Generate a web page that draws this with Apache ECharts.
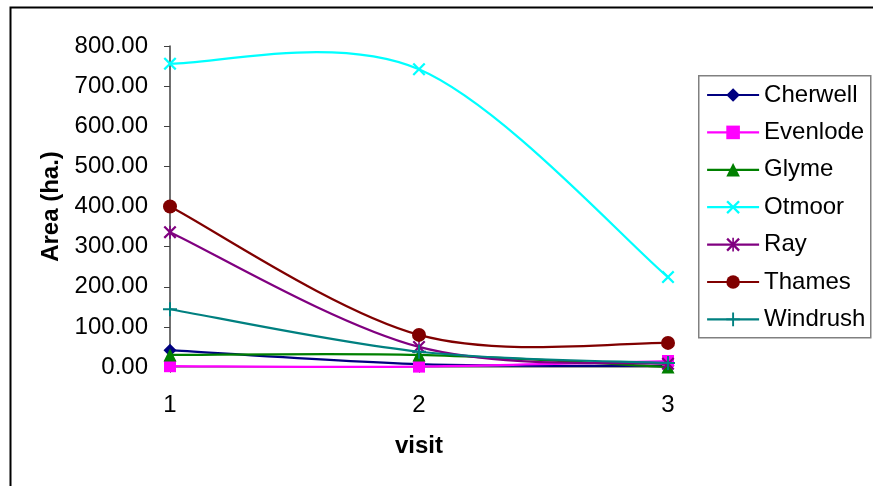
<!DOCTYPE html>
<html>
<head>
<meta charset="utf-8">
<script src="https://cdn.jsdelivr.net/npm/echarts@6/dist/echarts.min.js"></script>
<style>
  html, body { margin: 0; padding: 0; background: #fff; }
  #chart { width: 873px; height: 486px; }
</style>
</head>
<body>
<div id="chart"></div>
<script>
// Visits along the x axis
const visits = ['1', '2', '3'];

// Area (ha.) per river site at each visit
const cherwell = [42, 7, 3];
const evenlode = [2, 1, 15];
const glyme = [30, 30, 0];
const otmoor = [756, 742, 224];
const ray = [336, 50, 8];
const thames = [400, 80, 60];
const windrush = [144, 38, 10];

// Y axis ticks
const yTicks = { min: 0, max: 800, step: 100 };

// Marker shapes that ECharts does not ship with
const crossPath = 'path://M0,1.2 L1.2,0 L5,3.8 L8.8,0 L10,1.2 L6.2,5 L10,8.8 L8.8,10 L5,6.2 L1.2,10 L0,8.8 L3.8,5 Z';
const plusPath = 'path://M4.3,0 L5.7,0 L5.7,4.3 L10,4.3 L10,5.7 L5.7,5.7 L5.7,10 L4.3,10 L4.3,5.7 L0,5.7 L0,4.3 L4.3,4.3 Z';
const starPath = 'path://M0,1.2 L1.2,0 L5,3.8 L8.8,0 L10,1.2 L6.2,5 L10,8.8 L8.8,10 L5,6.2 L1.2,10 L0,8.8 L3.8,5 Z M4.4,0 L5.6,0 L5.6,10 L4.4,10 Z';

const seriesDefs = [
  { name: 'Cherwell', data: cherwell, color: '#000080', symbol: 'diamond', size: [13, 13] },
  { name: 'Evenlode', data: evenlode, color: '#FF00FF', symbol: 'rect', size: 12 },
  { name: 'Glyme', data: glyme, color: '#008000', symbol: 'triangle', size: 13 },
  { name: 'Otmoor', data: otmoor, color: '#00FFFF', symbol: crossPath, size: 13 },
  { name: 'Ray', data: ray, color: '#800080', symbol: starPath, size: 13 },
  { name: 'Thames', data: thames, color: '#800000', symbol: 'circle', size: 14 },
  { name: 'Windrush', data: windrush, color: '#008080', symbol: plusPath, size: 14 }
];

const font = 'Liberation Sans, Arial, sans-serif';
const LINE_W = 2.2;

// Smoothed curve through the projected points (cubic Bezier, Catmull-Rom style tangents)
function smoothPath(pts) {
  let d = 'M' + pts[0][0] + ',' + pts[0][1];
  for (let i = 0; i < pts.length - 1; i++) {
    const p0 = pts[Math.max(i - 1, 0)];
    const p1 = pts[i];
    const p2 = pts[i + 1];
    const p3 = pts[Math.min(i + 2, pts.length - 1)];
    const c1 = [p1[0] + (p2[0] - p0[0]) / 6, p1[1] + (p2[1] - p0[1]) / 6];
    const c2 = [p2[0] - (p3[0] - p1[0]) / 6, p2[1] - (p3[1] - p1[1]) / 6];
    d += ' C' + c1[0] + ',' + c1[1] + ' ' + c2[0] + ',' + c2[1] + ' ' + p2[0] + ',' + p2[1];
  }
  return d;
}

const curveSeries = seriesDefs.map((s, i) => ({
  name: s.name + ' curve',
  type: 'custom',
  data: [0],
  z: 2 + i * 2,
  silent: true,
  renderItem: (params, api) => {
    const pts = s.data.map((v, k) => api.coord([k, v]));
    return {
      type: 'path',
      shape: { pathData: smoothPath(pts) },
      style: { fill: null, stroke: s.color, lineWidth: LINE_W, lineJoin: 'round' }
    };
  }
}));

const markerSeries = seriesDefs.map((s, i) => ({
  name: s.name,
  type: 'line',
  data: s.data,
  symbol: s.symbol,
  symbolSize: s.size,
  symbolKeepAspect: true,
  showAllSymbol: true,
  z: 3 + i * 2,
  lineStyle: { color: s.color, width: LINE_W, opacity: 0 },
  itemStyle: { color: s.color, borderWidth: 0 }
}));

const chart = echarts.init(document.getElementById('chart'), null, { renderer: 'canvas' });

chart.setOption({
  animation: false,
  backgroundColor: '#ffffff',
  textStyle: { fontFamily: font },
  graphic: [
    {
      type: 'rect',
      left: 8, top: 5,
      shape: { width: 900, height: 600 },
      style: { fill: 'none', stroke: '#000', lineWidth: 2 },
      z: -1
    },
    {
      type: 'rect',
      left: 698, top: 75,
      shape: { width: 172, height: 262 },
      style: { fill: '#fff', stroke: '#808080', lineWidth: 1.5 },
      z: 0
    }
  ],
  legend: {
    orient: 'vertical',
    left: 706,
    top: 83,
    itemWidth: 52,
    itemHeight: 17,
    itemGap: 13.4,
    padding: 0,
    z: 5,
    lineStyle: { opacity: 1, width: LINE_W },
    textStyle: { fontFamily: font, fontSize: 24, color: '#000', padding: [0, 0, 0, 0] },
    data: seriesDefs.map(s => s.name)
  },
  grid: { left: 170, right: 205, top: 46, bottom: 119, containLabel: false },
  xAxis: {
    type: 'category',
    data: visits,
    boundaryGap: false,
    name: 'visit',
    nameLocation: 'middle',
    nameGap: 67,
    nameTextStyle: { fontFamily: font, fontSize: 24, fontWeight: 'bold', color: '#000' },
    axisLine: { lineStyle: { color: '#808080', width: 1.5 } },
    axisTick: { alignWithLabel: true, length: 6, lineStyle: { color: '#808080' } },
    axisLabel: { fontFamily: font, fontSize: 24, color: '#000', margin: 26 },
    splitLine: { show: false }
  },
  yAxis: {
    type: 'value',
    min: yTicks.min,
    max: yTicks.max,
    interval: yTicks.step,
    name: 'Area (ha.)',
    nameLocation: 'middle',
    nameGap: 107,
    nameRotate: 90,
    nameTextStyle: { fontFamily: font, fontSize: 24, fontWeight: 'bold', color: '#000' },
    axisLine: { show: true, lineStyle: { color: '#404040', width: 1.5 } },
    axisTick: { show: true, length: 6, lineStyle: { color: '#404040' } },
    axisLabel: { fontFamily: font, fontSize: 24, color: '#000', margin: 22, formatter: v => v.toFixed(2) },
    splitLine: { show: false }
  },
  series: curveSeries.concat(markerSeries)
});
</script>
</body>
</html>
